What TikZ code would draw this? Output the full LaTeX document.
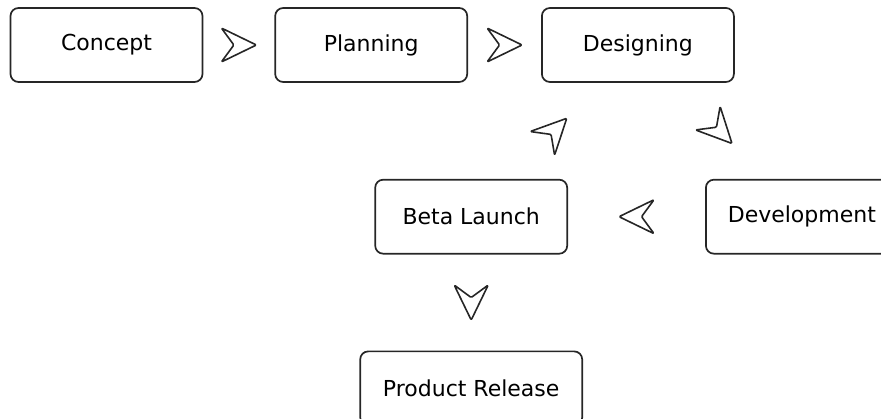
\documentclass[tikz,border=0pt]{standalone}
\usepackage{fontspec}
\setmainfont{DejaVu Sans}
\usetikzlibrary{positioning}
\definecolor{cLine}{HTML}{262626}
\tikzset{
  stage/.style  = {rectangle, draw=cLine, line width=1.7pt, rounded corners=8pt,
                   minimum width=#1, minimum height=74pt, align=center,
                   font=\fontsize{22}{26}\selectfont},
  stage/.default = 192pt,
  navarr/.pic   = {\draw[cLine, line width=1.6pt, line join=round, rounded corners=1.2pt]
                   (17.5,0) -- (-17.5,17) -- (-5,0) -- (-17.5,-17) -- cycle;},
  step on/.style = {midway, sloped, allow upside down},
}

\begin{document}
\begin{tikzpicture}[x=1pt, y=1pt]
  \clip (0,0) rectangle (881,419);

  %% Top row
  \node[stage] (concept) at (106.5,374) {Concept};
  \node[stage, right=71pt of concept] (plan)   {Planning};
  \node[stage, right=73pt of plan]    (design) {Designing};

  %% Middle row
  \node[stage, below=96pt of design, xshift=164pt] (dev)  {Development};
  \node[stage, left=137pt of dev]                  (beta) {Beta Launch};

  %% Bottom
  \node[stage=222pt, below=96pt of beta] (release) {Product Release};

  %% Arrow marks
  \path (concept) -- (plan)    pic[step on] {navarr};
  \path (plan)    -- (design)  pic[step on] {navarr};
  \path (design)  -- (dev)     pic[step on] {navarr};
  \path (beta)    -- (design)  pic[step on] {navarr};
  \path (dev)     -- (beta)    pic[step on] {navarr};
  \path (beta)    -- (release) pic[step on] {navarr};

\end{tikzpicture}
\end{document}
